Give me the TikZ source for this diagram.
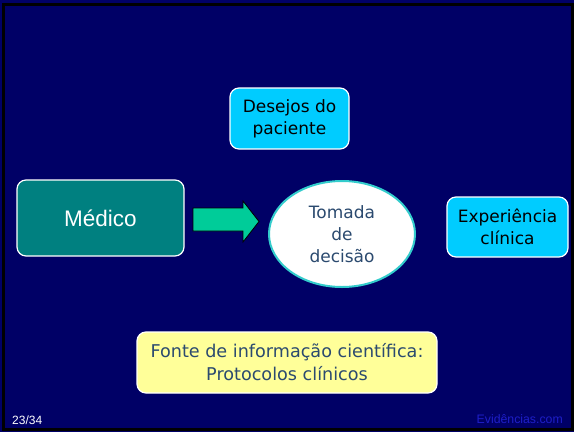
\documentclass[tikz,border=0pt]{standalone}
\usepackage{fontspec}
\setmainfont{DejaVu Sans}
\newfontfamily\arialfont{Liberation Sans}
\usetikzlibrary{shapes.geometric}
\definecolor{navybg}{HTML}{000066}
\definecolor{tealbox}{HTML}{008080}
\definecolor{greenarrow}{HTML}{00CC99}
\definecolor{cyanbox}{HTML}{00CCFF}
\definecolor{ellborder}{HTML}{33CCCC}
\definecolor{yellowbox}{HTML}{FFFF99}
\definecolor{darktext}{HTML}{2B4A6F}
\definecolor{brandblue}{HTML}{1E1EC8}
\begin{document}
\begin{tikzpicture}[x=1pt,y=-1pt,
  box/.style={draw=white, line width=1.2pt, rounded corners=9pt, inner sep=0pt, align=center,
    font=\fontsize{17}{22}\selectfont},
  cyanstyle/.style={box, fill=cyanbox, text=black},
]
\useasboundingbox (0,0) rectangle (574,432);
\fill[navybg] (0,0) rectangle (574,432);
\draw[black, line width=3pt] (3.5,4.5) rectangle (572.5,429);

\node[box, fill=tealbox, text=white, minimum width=167pt, minimum height=76pt,
  font=\arialfont\fontsize{22.5}{26}\selectfont] (medico) at (100.5,218) {Médico};

\node[cyanstyle, minimum width=119pt, minimum height=61pt] (desejos) at (289.5,118.5) {Desejos do\\paciente};

\node[cyanstyle, minimum width=121pt, minimum height=60pt] (exp) at (507.5,227) {Experiência\\clínica};

\node[ellipse, draw=ellborder, line width=2pt, fill=white, text=darktext, inner sep=0pt,
  minimum width=146pt, minimum height=106pt, align=center,
  font=\fontsize{17}{22}\selectfont] (decisao) at (342,234) {Tomada\\de\\decisão};

\node[box, fill=yellowbox, text=darktext, minimum width=300pt, minimum height=61pt,
  font=\fontsize{17.6}{23}\selectfont] (fonte) at (287,362.5) {Fonte de informação científica:\\Protocolos clínicos};

\draw[black, line width=0.8pt, fill=greenarrow]
  (193,208) -- (243,208) -- (243,201) -- (259,221.5) -- (243,242) -- (243,231) -- (193,231) -- cycle;

\node[anchor=base west, inner sep=0pt, text=white, font=\arialfont\fontsize{12}{14}\selectfont] (page) at (12,424) {23/34};
\node[anchor=base east, inner sep=0pt, text=brandblue, font=\arialfont\fontsize{12.3}{14}\selectfont] (brand) at (563,423) {Evidências.com};
\end{tikzpicture}
\end{document}
